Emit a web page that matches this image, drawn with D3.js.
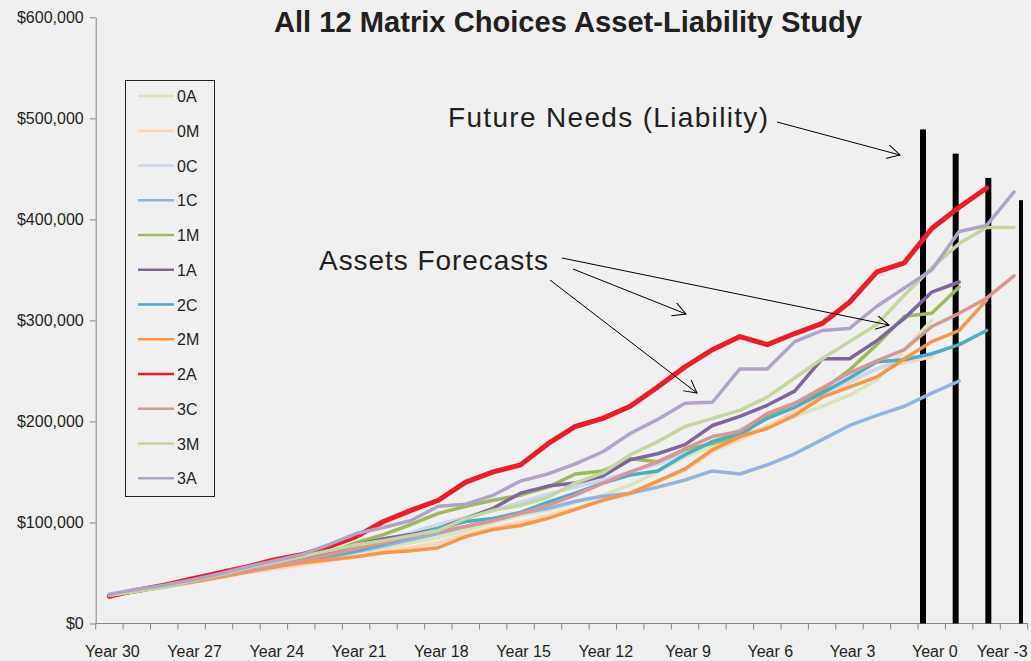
<!DOCTYPE html>
<html>
<head>
<meta charset="utf-8">
<script src="https://d3js.org/d3.v7.min.js"></script>
<style>
body { margin: 0; background: #f0f0f0; }
svg { display: block; font-family: "Liberation Sans", Arial, sans-serif; }
.axis text { font-size: 16px; fill: #231f20; }
.note { font-size: 28px; fill: #231f20; }
</style>
</head>
<body>
<svg id="chart" width="1031" height="661"></svg>
<script>
// categories: years remaining, from Year 30 down to Year -3
var years = [30,29,28,27,26,25,24,23,22,21,20,19,18,17,16,15,14,13,12,11,10,9,8,7,6,5,4,3,2,1,0,-1,-2,-3];
var tickYears = [30,27,24,21,18,15,12,9,6,3,0,-3];
var yTicks = [0,100,200,300,400,500,600];   // thousands of dollars

var seriesNames  = ["0A","0M","0C","1C","1M","1A","2C","2M","2A","3C","3M","3A"];
var seriesColors = ["#d7e4bd","#fcd5b5","#c6d9f1","#8eb4e3","#9bbb59","#8064a2","#4bacc6","#f79646","#ee1c25","#d99694","#c3d69b","#b3a2c7"];

// asset forecasts, $ thousands, starting at Year 30
var s0A = [28,32,36,41,46,51,56,61,65,70,75,80,85,92,100,107,112,120,127,137,150,165,175,185,195,205,215,226,241,271,300];
var s0M = [28,32,36,40,45,50,54,58,62,66,71,75,80,88,95,100,107,114,122,128,140,152,170,182,195,210,225,238,252,258,264];
var s0C = [28,32,37,42,47,52,57,63,69,75,82,90,98,105,112,120,128,135,142,150,158,168,180,192,205,218,228,240,252,262];
var s1C = [28,32,36,41,46,51,56,61,66,71,77,83,89,96,102,109,114,121,126,129,135,142,151,148,157,168,182,196,206,215,228,240];
var s1M = [28,33,38,43,48,54,60,65,70,80,88,98,109,116,122,127,135,148,151,163,160,172,178,185,206,218,231,251,276,304,307,333];
var s1A = [28,32,37,42,47,52,57,62,70,78,84,88,94,104,114,129,136,139,146,162,168,177,196,205,216,230,262,262,280,302,328,338];
var s2C = [28,32,37,42,47,52,57,62,67,72,79,86,94,101,104,110,120,129,139,147,151,167,180,188,203,214,228,243,259,261,267,276,290];
var s2M = [28,32,37,41,46,51,56,60,63,66,70,72,75,86,93,97,104,113,122,129,141,153,172,185,193,206,224,234,244,262,279,290,320];
var s2A = [27,33,38,44,50,56,63,68,76,86,101,112,122,140,150,157,178,195,203,215,234,254,271,284,276,287,297,318,348,357,391,412,431];
var s3C = [28,32,37,42,47,52,57,62,68,74,80,86,91,96,102,109,117,127,139,150,160,173,185,190,208,218,233,248,260,271,294,307,322,344];
var s3M = [28,32,36,42,48,55,60,66,72,78,82,87,92,104,112,117,125,139,149,167,180,195,203,211,224,243,262,279,296,325,352,376,392,392];
var s3A = [29,34,38,43,49,56,62,68,78,89,95,102,116,118,127,141,148,158,170,188,202,218,219,252,252,279,290,292,314,332,350,388,394,427];
var seriesValues = [s0A,s0M,s0C,s1C,s1M,s1A,s2C,s2M,s2A,s3C,s3M,s3A];

// future needs (liability), $ thousands
var liabilityYears = [0,-1,-2,-3];
var liabilityValues = [489,465,441,419];

var svg = d3.select("#chart");
var axisColor = "#868686";

var x = d3.scaleBand().domain(years).range([95.7, 1027.7]);
var y = d3.scaleLinear().domain([0, 600]).range([623.5, 17.3]);
var xl = d3.scalePoint().domain(liabilityYears).range([923, 1021]);

// title
svg.append("text")
    .attr("x", 568).attr("y", 32)
    .attr("text-anchor", "middle")
    .attr("textLength", 588).attr("lengthAdjust", "spacingAndGlyphs")
    .style("font-size", "30px").style("font-weight", "bold").style("fill", "#231f20")
    .text("All 12 Matrix Choices Asset-Liability Study");

// y axis
var yAxis = svg.append("g")
    .attr("class", "axis")
    .attr("transform", "translate(95.7,0)")
    .call(d3.axisLeft(y).tickValues(yTicks).tickSize(6).tickSizeOuter(0).tickPadding(6)
        .tickFormat(function(d) { return "$" + d3.format(",")(d * 1000); }));
yAxis.select(".domain").attr("stroke", axisColor);
yAxis.selectAll("line").attr("stroke", axisColor);
yAxis.selectAll("text").style("font-family", "inherit");

// x axis: ticks between categories
var xAxis = svg.append("g").attr("class", "axis");
xAxis.append("line")
    .attr("x1", x.range()[0]).attr("x2", x.range()[1])
    .attr("y1", y(0)).attr("y2", y(0))
    .attr("stroke", axisColor);
xAxis.selectAll(".tick")
    .data(years.concat(["end"]))
    .enter().append("line")
    .attr("x1", function(d) { return d === "end" ? x.range()[1] : x(d); })
    .attr("x2", function(d) { return d === "end" ? x.range()[1] : x(d); })
    .attr("y1", y(0)).attr("y2", y(0) + 6)
    .attr("stroke", axisColor);
// the last label is squeezed against the right edge, as in the original
xAxis.selectAll(".lbl")
    .data(tickYears)
    .enter().append("text")
    .attr("x", function(d, i) {
        return i == tickYears.length - 1 ? x.range()[1] : x(d) + x.bandwidth() / 2 + 3;
    })
    .attr("y", 657)
    .attr("text-anchor", function(d, i) { return i == tickYears.length - 1 ? "end" : "middle"; })
    .text(function(d) { return "Year " + d; });

// liability bars
svg.selectAll(".liab")
    .data(liabilityValues)
    .enter().append("rect")
    .attr("x", function(d, i) { return xl(liabilityYears[i]) - (i == 3 ? 2 : 3); })
    .attr("width", function(d, i) { return i == 3 ? 4 : 6; })
    .attr("y", function(d) { return y(d); })
    .attr("height", function(d) { return y(0) - y(d); })
    .attr("fill", "#000");

// asset lines
var line = d3.line()
    .x(function(d, i) { return x(years[i]) + x.bandwidth() / 2; })
    .y(function(d) { return y(d); });

svg.selectAll(".series")
    .data(seriesValues)
    .enter().append("path")
    .attr("d", line)
    .attr("fill", "none")
    .attr("stroke", function(d, i) { return seriesColors[i]; })
    .attr("stroke-width", function(d, i) { return seriesNames[i] == "2A" ? 5 : 3.5; })
    .attr("stroke-linejoin", "round")
    .attr("stroke-linecap", "round");

// legend
var legend = svg.append("g").attr("class", "axis");
legend.append("rect")
    .attr("x", 125.5).attr("y", 80.5).attr("width", 89).attr("height", 416)
    .attr("fill", "none").attr("stroke", "#231f20");
seriesNames.forEach(function(name, i) {
    var ly = 96 + i * 34.75;
    legend.append("line")
        .attr("x1", 138).attr("x2", 174).attr("y1", ly).attr("y2", ly)
        .attr("stroke", seriesColors[i]).attr("stroke-width", 2.5);
    legend.append("text")
        .attr("x", 177).attr("y", ly + 6)
        .text(name);
});

// annotations
var defs = svg.append("defs");
defs.append("marker")
    .attr("id", "arrow")
    .attr("markerUnits", "userSpaceOnUse")
    .attr("markerWidth", 16).attr("markerHeight", 16)
    .attr("refX", 13).attr("refY", 7)
    .attr("orient", "auto")
    .append("path")
    .attr("d", "M0,0 L13,7 L0,14")
    .attr("fill", "none").attr("stroke", "#000").attr("stroke-width", 1);

svg.append("text").attr("class", "note")
    .attr("x", 448).attr("y", 127).attr("textLength", 320)
    .text("Future Needs (Liability)");
svg.append("text").attr("class", "note")
    .attr("x", 319).attr("y", 270).attr("textLength", 229)
    .text("Assets Forecasts");

var arrows = [[777,122,900,155],[562,258,889,325],[573,269,686,314],[550,280,697,393]];
svg.selectAll(".arrow")
    .data(arrows)
    .enter().append("line")
    .attr("x1", function(d) { return d[0]; })
    .attr("y1", function(d) { return d[1]; })
    .attr("x2", function(d) { return d[2]; })
    .attr("y2", function(d) { return d[3]; })
    .attr("stroke", "#000").attr("stroke-width", 1)
    .attr("marker-end", "url(#arrow)");
</script>
</body>
</html>
